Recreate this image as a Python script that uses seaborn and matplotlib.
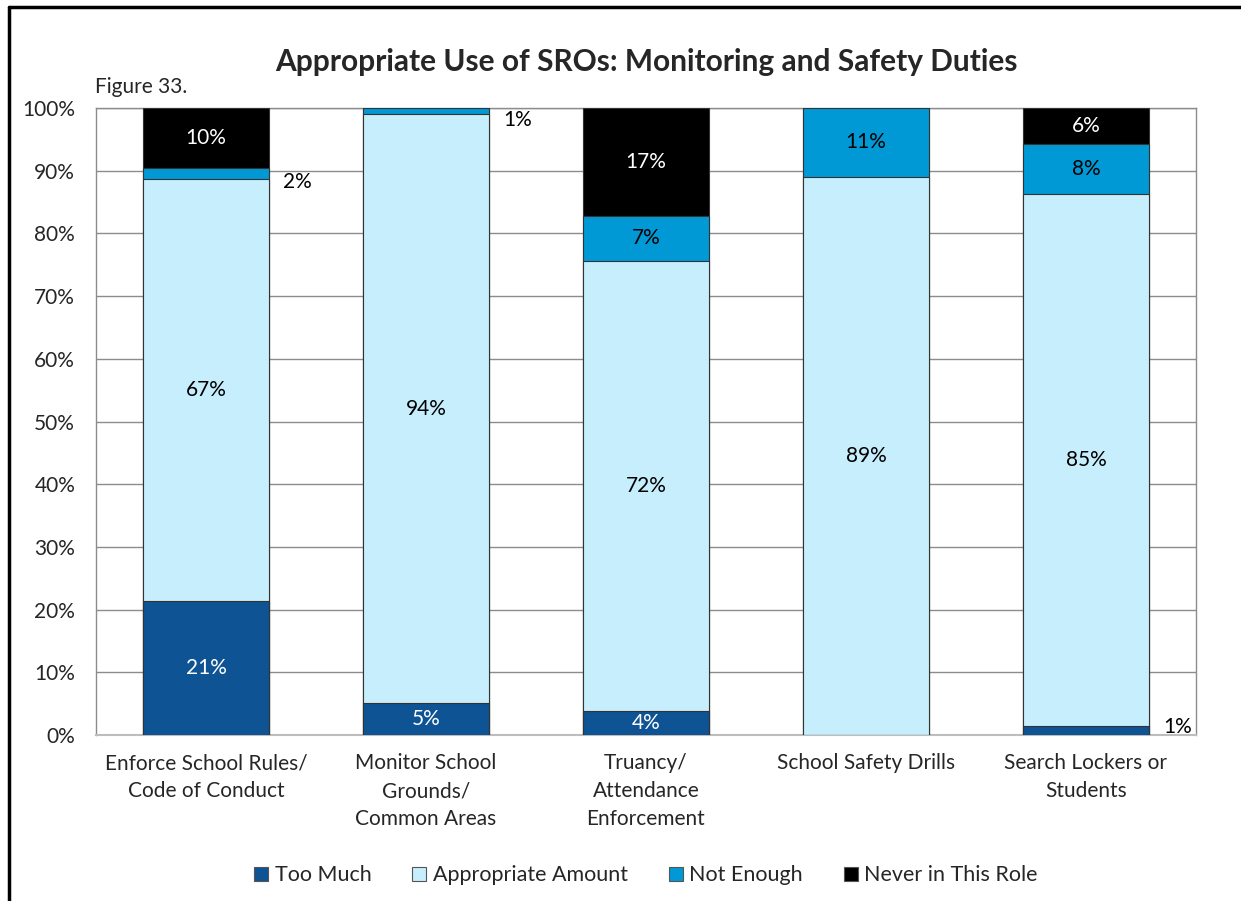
import numpy as np
import pandas as pd
import matplotlib
matplotlib.use('Agg')
import matplotlib.pyplot as plt
from matplotlib.lines import Line2D
from matplotlib.patches import Patch
import seaborn as sns

CATEGORIES = ['Enforce School Rules/\nCode of Conduct',
              'Monitor School\nGrounds/\nCommon Areas',
              'Truancy/\nAttendance\nEnforcement',
              'School Safety Drills',
              'Search Lockers or\nStudents']
SERIES = ['Too Much', 'Appropriate Amount', 'Not Enough', 'Never in This Role']
TOO_MUCH = [21.4, 5.1, 3.8, 0.0, 1.4]
APPROPRIATE = [67.3, 93.9, 71.8, 89.0, 84.9]
NOT_ENOUGH = [1.7, 1.0, 7.2, 11.0, 8.0]
NEVER = [9.6, 0.0, 17.2, 0.0, 5.7]
Y_TICKS = [0, 10, 20, 30, 40, 50, 60, 70, 80, 90, 100]

COLORS = ['#0E5393', '#C6EEFC', '#0099D6', '#000000']
TEXT_COLORS = ['white', 'black', 'black', 'white']

sns.set_style('white')
plt.rcParams['font.family'] = ['Lato', 'DejaVu Sans']

fig = plt.figure(figsize=(12.41, 9.01), dpi=100)
ax = fig.add_axes([96 / 1241, 1 - 735 / 901, 1100 / 1241, 627 / 901])

layers = [TOO_MUCH, APPROPRIATE, NOT_ENOUGH, NEVER]
cum = np.cumsum(np.array(layers), axis=0)
x = np.arange(len(CATEGORIES))
width = 0.573

# draw cumulative totals from the top layer down so each segment shows
for i in range(len(layers) - 1, -1, -1):
    df = pd.DataFrame({'cat': CATEGORIES, 'val': cum[i]})
    sns.barplot(data=df, x='cat', y='val', color=COLORS[i], saturation=1,
                width=width, edgecolor='#333333', linewidth=0.8, ax=ax, zorder=3)

# segment labels
for i, vals in enumerate(layers):
    for j, v in enumerate(vals):
        if v <= 0:
            continue
        mid = cum[i][j] - v / 2
        label = f'{round(v):.0f}%'
        if v < 3:
            ax.text(j + width / 2 + 0.065, max(mid - 1.4, 1.3), label, ha='left',
                    va='center', fontsize=15, color='black', zorder=5)
        else:
            ax.text(j, mid, label, ha='center', va='center',
                    fontsize=15, color=TEXT_COLORS[i], zorder=5)

ax.set_xlim(-0.5, len(CATEGORIES) - 0.5)
ax.set_ylim(0, 100)
ax.set_yticks(Y_TICKS)
ax.set_yticklabels([f'{t}%' for t in Y_TICKS])
ax.set_xticks(x)
ax.set_xticklabels(CATEGORIES, linespacing=1.5)
ax.tick_params(axis='both', length=0, labelsize=15)
ax.tick_params(axis='y', pad=15)
ax.tick_params(axis='x', pad=13)
ax.set_xlabel('')
ax.set_ylabel('')
ax.yaxis.grid(True, color='#8c8c8c', linewidth=1, zorder=0)
ax.set_axisbelow(True)
for s in ['left', 'top', 'right']:
    ax.spines[s].set_color('#8c8c8c')
    ax.spines[s].set_linewidth(1)
ax.spines['bottom'].set_color('#bdbdbd')
ax.spines['bottom'].set_linewidth(1.5)

handles = [Patch(facecolor=c, edgecolor='#555555', linewidth=0.8) for c in COLORS]
ax.legend(handles, SERIES, loc='center', bbox_to_anchor=(0.5, -0.224), ncol=4,
          frameon=False, fontsize=15.5, handlelength=0.65, handleheight=0.65,
          handletextpad=0.3, columnspacing=1.9)

fig.text(646 / 1241, 1 - 62 / 901, 'Appropriate Use of SROs: Monitoring and Safety Duties',
         ha='center', va='center', fontsize=21.5, fontweight='bold')
fig.text(95 / 1241, 1 - 87 / 901, 'Figure 33.', ha='left', va='center', fontsize=15)

# outer frame (left and top edges visible)
fig.add_artist(Line2D([9 / 1241, 9 / 1241], [0, 1 - 7 / 901], color='black',
                      linewidth=2.5, transform=fig.transFigure))
fig.add_artist(Line2D([9 / 1241, 1], [1 - 7 / 901, 1 - 7 / 901], color='black',
                      linewidth=2.5, transform=fig.transFigure))

fig.savefig('out.png', dpi=100)
